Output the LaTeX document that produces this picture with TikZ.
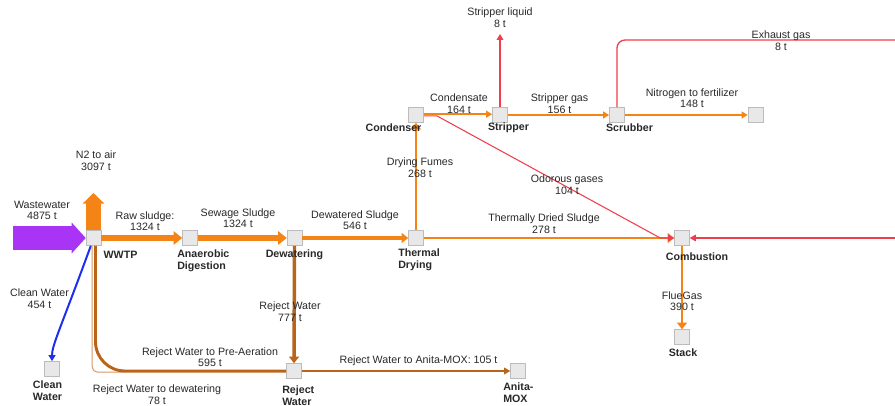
\documentclass[tikz,border=0pt]{standalone}
\usepackage{fontspec}
\setmainfont{Liberation Sans}
\usetikzlibrary{arrows.meta}
\definecolor{orflow}{RGB}{245,132,22}
\definecolor{brflow}{RGB}{186,100,26}
\definecolor{ltbrflow}{RGB}{214,150,100}
\definecolor{rdflow}{RGB}{240,62,76}
\definecolor{blflow}{RGB}{28,48,240}
\definecolor{ppflow}{RGB}{170,52,245}
\definecolor{boxfill}{RGB}{232,232,232}
\definecolor{boxline}{RGB}{188,188,188}
\definecolor{txtcol}{RGB}{40,40,40}

\begin{document}
\begin{tikzpicture}[x=0.75pt,y=-0.75pt,font=\fontsize{8}{8.6}\selectfont]
	\tikzstyle{procbox}=[draw=boxline,fill=boxfill,minimum size=11.25pt,inner sep=0pt];
	\tikzstyle{txt}=[text=txtcol,align=center,inner sep=0pt];
	\tikzstyle{boxlabel}=[txt,font=\fontsize{8}{9}\selectfont\bfseries];
	\tikzstyle{tipS}=[-{Triangle[length=4.5pt,width=5pt]}];
	\tikzstyle{tipM}=[-{Triangle[length=5pt,width=7.5pt]}];
	\tikzstyle{tipL}=[-{Triangle[length=6.5pt,width=10pt]}];
	\useasboundingbox (0,0) rectangle (895,406);
	%% boxes
	\node[procbox] (wwtp)  at (93.5,238) {};
	\node[procbox] (ad)    at (190,238)  {};
	\node[procbox] (dew)   at (294.5,238) {};
	\node[procbox] (td)    at (416,238)  {};
	\node[procbox] (comb)  at (682,238)  {};
	\node[procbox] (cond)  at (416,115)  {};
	\node[procbox] (str)   at (500,115)  {};
	\node[procbox] (scr)   at (617,115)  {};
	\node[procbox] (fert)  at (755.5,115) {};
	\node[procbox] (stack) at (682,337)  {};
	\node[procbox] (rw)    at (294,371)  {};
	\node[procbox] (amox)  at (518,371)  {};
	\node[procbox] (cw)    at (52,369)   {};
	%% open ends
	\coordinate (ww_in)   at (13,238);
	\coordinate (n2_out)  at (93.5,193);
	\coordinate (sl_out)  at (500,34);
	\coordinate (exh_out) at (895,40);
	\coordinate (comb_in) at (895,238);
	%% big flows
	\draw[ppflow,line width=18pt,-{Triangle[length=10.5pt,width=22.5pt]}] (ww_in) -- (wwtp.west);
	\draw[orflow,line width=11.25pt,-{Triangle[length=8pt,width=16pt]}] (wwtp.north) -- (n2_out);
	\draw[orflow,line width=4.5pt,tipL] (wwtp.east) -- (ad.west);
	\draw[orflow,line width=4.5pt,tipL] (ad.east) -- (dew.west);
	\draw[orflow,line width=2.5pt,tipM] (dew.east) -- (td.west);
	\draw[orflow,line width=1.5pt,tipM] (td.east) -- (comb.west);
	\draw[orflow,line width=1.5pt,tipM] (td.north) -- (cond.south);
	\draw[orflow,line width=1.9pt,tipM] (comb.south) -- (stack.north);
	%% gas line
	\draw[orflow,line width=1.1pt,tipS] ([yshift=0.6pt]cond.east) -- ([yshift=0.6pt]str.west);
	\draw[orflow,line width=1.1pt,tipS] (str.east) -- (scr.west);
	\draw[orflow,line width=1.1pt,tipS] (scr.east) -- (fert.west);
	\draw[rdflow,line width=1pt,tipS] (str.north) -- (sl_out);
	\draw[rdflow,line width=1pt,rounded corners=6pt] (scr.north) |- (exh_out);
	\draw[rdflow,line width=0.8pt,tipS] ([yshift=-0.6pt]cond.east) -- ++(13,0) -- ([xshift=-10.5pt]comb.west) -- (comb.west);
	\draw[rdflow,line width=0.8pt,tipS] (comb_in) -- (comb.east);
	%% water
	\draw[blflow,line width=1.5pt,tipS] ([xshift=-2pt]wwtp.south) .. controls (60,330) and (52,345) .. (cw.north);
	\draw[ltbrflow,line width=0.7pt,rounded corners=4pt] ([xshift=-1pt]wwtp.south) |- ([yshift=-0.9pt]rw.west);
	\draw[brflow,line width=2.2pt,rounded corners=22pt] ([xshift=1.5pt]wwtp.south) |- (rw.west);
	\draw[brflow,line width=2.6pt,tipM] (dew.south) -- (rw.north);
	\draw[brflow,line width=0.8pt,tipS] (rw.east) -- (amox.west);
	%% flow labels
	\node[txt] (l_ww)   at (42,210.5)  {Wastewater\\4875 t};
	\node[txt] (l_n2)   at (96,160.5)  {N2 to air\\3097 t};
	\node[txt] (l_raw)  at (145,221)   {Raw sludge:\\1324 t};
	\node[txt] (l_sew)  at (238,218)   {Sewage Sludge\\1324 t};
	\node[txt] (l_dws)  at (355,220)   {Dewatered Sludge\\546 t};
	\node[txt] (l_tds)  at (544,223.5) {Thermally Dried Sludge\\278 t};
	\node[txt] (l_fum)  at (420,167.5) {Drying Fumes\\268 t};
	\node[txt] (l_odo)  at (567,184.5) {Odorous gases\\104 t};
	\node[txt] (l_con)  at (459,103.5) {Condensate\\164 t};
	\node[txt] (l_sg)   at (559.5,103.5) {Stripper gas\\156 t};
	\node[txt] (l_sl)   at (500,17.5)  {Stripper liquid\\8 t};
	\node[txt] (l_exh)  at (781,40.5)  {Exhaust gas\\8 t};
	\node[txt] (l_nit)  at (692,98)    {Nitrogen to fertilizer\\148 t};
	\node[txt] (l_flue) at (682,301)   {FlueGas\\390 t};
	\node[txt] (l_rw)   at (290,311.5) {Reject Water\\777 t};
	\node[txt] (l_pre)  at (210,357)   {Reject Water to Pre-Aeration\\595 t};
	\node[txt] (l_rdw)  at (157,394.5) {Reject Water to dewatering\\78 t};
	\node[txt] (l_cw)   at (39.5,298.5) {Clean Water\\454 t};
	\node[txt] (l_amx)  at (418.5,361) {Reject Water to Anita-MOX: 105 t};
	%% box labels
	\node[boxlabel] (n_wwtp)  at (120.5,255) {WWTP};
	\node[boxlabel,anchor=west,align=left] (n_ad)  at (177,260.5) {Anaerobic\\Digestion};
	\node[boxlabel] (n_dew)   at (294.5,255) {Dewatering};
	\node[boxlabel,anchor=west,align=left] (n_td)  at (398,260) {Thermal\\Drying};
	\node[boxlabel] (n_comb)  at (697,257) {Combustion};
	\node[boxlabel] (n_cond)  at (393.5,128) {Condenser};
	\node[boxlabel] (n_str)   at (508.5,128) {Stripper};
	\node[boxlabel] (n_scr)   at (629.5,128) {Scrubber};
	\node[boxlabel] (n_stack) at (683,353) {Stack};
	\node[boxlabel,anchor=west,align=left] (n_rw)  at (282,395.5) {Reject\\Water};
	\node[boxlabel,anchor=west,align=left] (n_amx) at (503,393) {Anita-\\MOX};
	\node[boxlabel] (n_cw)    at (47.5,391) {Clean\\Water};
\end{tikzpicture}
\end{document}
